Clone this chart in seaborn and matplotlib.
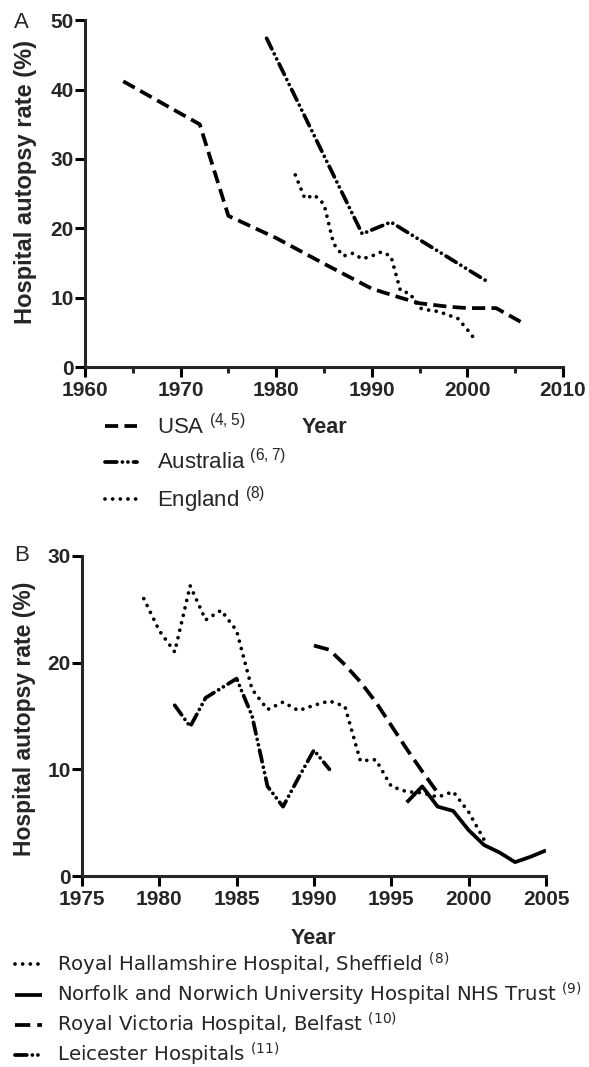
import matplotlib
matplotlib.use("Agg")
import matplotlib.pyplot as plt
from matplotlib.ticker import MultipleLocator
import seaborn as sns

# Panel A - national hospital autopsy rates
usa_years = [1964, 1972, 1975, 1980, 1985, 1990, 1993, 1995, 1998, 2000, 2003, 2006]
usa_rate = [41.2, 35.0, 21.8, 18.6, 14.9, 11.3, 10.0, 9.2, 8.7, 8.5, 8.5, 6.2]

australia_years = [1979, 1989, 1992, 2002]
australia_rate = [47.4, 19.2, 20.9, 12.4]

england_years = list(range(1982, 2002))
england_rate = [27.7, 24.3, 24.8, 23.5, 17.8, 16.0, 16.4, 15.6, 16.0, 16.6,
                16.0, 11.0, 10.6, 8.5, 8.2, 8.0, 7.5, 7.0, 5.4, 3.6]

# Panel B - individual hospitals
sheffield_years = list(range(1979, 2002))
sheffield_rate = [26.0, 23.0, 21.0, 27.2, 24.0, 24.9, 23.0, 17.5, 15.6, 16.3, 15.5, 16.0,
                  16.4, 15.9, 10.8, 10.9, 8.4, 7.9, 7.8, 7.4, 7.9, 6.0, 3.4]

norwich_years = list(range(1996, 2006))
norwich_rate = [6.9, 8.4, 6.5, 6.1, 4.3, 2.9, 2.2, 1.3, 1.8, 2.4]

belfast_years = list(range(1990, 1999))
belfast_rate = [21.6, 21.2, 19.8, 18.2, 16.3, 14.1, 11.9, 9.8, 7.8]

leicester_years = list(range(1981, 1992))
leicester_rate = [16.0, 14.0, 16.7, 17.6, 18.5, 15.0, 8.4, 6.5, 9.2, 11.8, 10.0]

labels_a = ["USA $^{\\mathregular{(4,5)}}$", "Australia $^{\\mathregular{(6,7)}}$",
            "England $^{\\mathregular{(8)}}$"]
labels_b = ["Royal Hallamshire Hospital, Sheffield $^{\\mathregular{(8)}}$",
            "Norfolk and Norwich University Hospital NHS Trust $^{\\mathregular{(9)}}$",
            "Royal Victoria Hospital, Belfast $^{\\mathregular{(10)}}$",
            "Leicester Hospitals $^{\\mathregular{(11)}}$"]

sns.set_style("ticks")
plt.rcParams["font.family"] = ["Liberation Sans", "DejaVu Sans"]
plt.rcParams["lines.scale_dashes"] = False
plt.rcParams["axes.linewidth"] = 2.2

DASH = (0, (9.5, 4.5))
DASHDOTDOT = (0, (8.5, 4.0, 0.01, 4.0, 0.01, 4.0))
DOT = (0, (0.01, 5.5))
LW = 2.7


def draw(ax, x, y, style, label, cap="butt"):
    sns.lineplot(x=x, y=y, ax=ax, color="black", linewidth=LW, linestyle=style,
                 dash_capstyle=cap, solid_capstyle="butt", label=label)


def style_axes(ax, ylabel_size):
    sns.despine(ax=ax)
    ax.tick_params(axis="both", which="major", length=7, width=2.2, labelsize=15,
                   direction="out", color="black")
    ax.tick_params(axis="x", which="major", pad=3)
    ax.tick_params(axis="y", which="major", pad=1)
    ax.tick_params(axis="x", which="minor", length=4, width=2.2, direction="out")
    for lab in ax.get_xticklabels() + ax.get_yticklabels():
        lab.set_fontweight("bold")
    ax.set_ylabel("Hospital autopsy rate (%)", fontsize=ylabel_size, fontweight="bold")
    ax.set_xlabel("Year", fontsize=15.5, fontweight="bold")


fig = plt.figure(figsize=(5.89, 10.67), dpi=100)

# ---- Panel A ----
ax1 = fig.add_axes([0.1443, 0.656, 0.8115, 0.325])
draw(ax1, usa_years, usa_rate, DASH, labels_a[0])
draw(ax1, australia_years, australia_rate, DASHDOTDOT, labels_a[1], cap="round")
draw(ax1, england_years, england_rate, DOT, labels_a[2], cap="round")
ax1.set_xlim(1960, 2010)
ax1.set_ylim(0, 50)
ax1.xaxis.set_major_locator(MultipleLocator(10))
ax1.xaxis.set_minor_locator(MultipleLocator(5))
ax1.yaxis.set_major_locator(MultipleLocator(10))
style_axes(ax1, 17)
ax1.xaxis.set_label_coords(0.5, -0.145)
ax1.yaxis.set_label_coords(-0.10, 0.535)
ax1.legend(loc="upper left", bbox_to_anchor=(0.178, 0.612), bbox_transform=fig.transFigure,
           frameon=False, fontsize=16, handlelength=1.45, handletextpad=0.9,
           labelspacing=0.45, borderpad=0, borderaxespad=0)
fig.text(0.037, 0.979, "A", fontsize=16, ha="center", va="center")

# ---- Panel B ----
ax2 = fig.add_axes([0.139, 0.179, 0.788, 0.300])
draw(ax2, sheffield_years, sheffield_rate, DOT, labels_b[0], cap="round")
draw(ax2, norwich_years, norwich_rate, "-", labels_b[1])
draw(ax2, belfast_years, belfast_rate, (0, (11.0, 5.0)), labels_b[2])
draw(ax2, leicester_years, leicester_rate, DASHDOTDOT, labels_b[3], cap="round")
ax2.set_xlim(1975, 2005)
ax2.set_ylim(0, 30)
ax2.xaxis.set_major_locator(MultipleLocator(5))
ax2.yaxis.set_major_locator(MultipleLocator(10))
style_axes(ax2, 16.5)
ax2.xaxis.set_label_coords(0.5, -0.162)
ax2.yaxis.set_label_coords(-0.099, 0.49)
ax2.legend(loc="upper left", bbox_to_anchor=(0.025, 0.109), bbox_transform=fig.transFigure,
           frameon=False, prop={"family": "DejaVu Sans", "size": 14.2}, handlelength=1.4,
           handletextpad=0.75, labelspacing=0.15, borderpad=0, borderaxespad=0)
fig.text(0.036, 0.479, "B", fontsize=16, ha="center", va="center")

fig.savefig("out.png", dpi=100)
